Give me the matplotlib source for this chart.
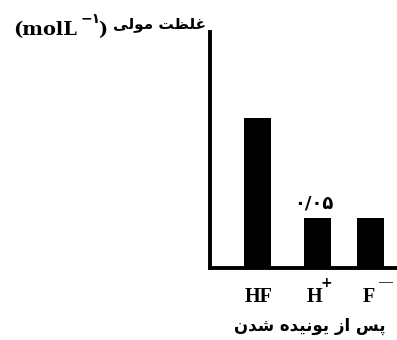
import matplotlib
matplotlib.use("Agg")
import matplotlib.pyplot as plt

# data
categories = ["HF", "H", "F"]
charges = ["", "+", "\u2014"]          # superscripts of H+ and F-
values = [0.15, 0.05, 0.05]
value_label = "\u06f0/\u06f0\u06f5"   # 0/05 in persian digits

# layout (x positions of the bars, not evenly spaced in the original)
xpos = [47.5, 107.5, 160.5]

# persian text written in presentation forms, visual order (no shaping in mpl)
ylabel_fa = "\ufef0\ufedf\ufeee\ufee3 \ufe96\ufec8\ufee0\ufecf"          # غلظت مولی
xlabel_fa = "\ufee5\ufeaa\ufeb7 \ufee9\ufeaa\ufef4\ufee7\ufeee\ufef3 \ufeaf\ufe8d \ufeb2\ufb58"  # پس از یونیده شدن

fig = plt.figure(figsize=(3.97, 3.40), dpi=100)
ax = fig.add_axes([210/397, 72/340, 187/397, 236/340])

ax.bar(xpos, values, width=27, color="black")
ax.set_xlim(0, 187)
ax.set_ylim(0, 0.236)

for s in ["top", "right"]:
    ax.spines[s].set_visible(False)
for s in ["left", "bottom"]:
    ax.spines[s].set_linewidth(2.8)
ax.set_yticks([])
ax.set_xticks([])

# category labels with big superscript charges
base_dx = [1.0, -2.5, -1.1]
sup_dx = [0, 6.5, 10.4]
sup_size = [0, 10, 10]
sup_font = ["", "DejaVu Sans", "Liberation Serif"]
for x, lab, ch, bdx, sdx, ss, sf in zip(xpos, categories, charges, base_dx,
                                        sup_dx, sup_size, sup_font):
    ax.annotate(lab, (x, 0), xycoords=("data", "axes fraction"),
                xytext=(bdx, -24.5), textcoords="offset points",
                ha="center", va="baseline", fontsize=14.5, fontweight="bold",
                family="Liberation Serif")
    if ch:
        ax.annotate(ch, (x, 0), xycoords=("data", "axes fraction"),
                    xytext=(sdx, -10.5), textcoords="offset points",
                    ha="center", va="center", fontsize=ss, fontweight="bold",
                    family=sf)

ax.text(xpos[1] - 4, values[1] + 0.006, value_label, ha="center", va="bottom",
        fontsize=13, fontweight="bold", family="DejaVu Sans")

# y axis title: unit + persian part, drawn as separate pieces like the original
fig.text(13/397, 1 - 35/340, "(molL", ha="left", va="baseline",
         fontsize=14, fontweight="bold", family="DejaVu Serif")
fig.text(81/397, 1 - 23/340, "\u2212\u06f1", ha="left", va="baseline",
         fontsize=10, fontweight="bold", family="DejaVu Sans")
fig.text(98/397, 1 - 35/340, ")", ha="left", va="baseline",
         fontsize=14, fontweight="bold", family="DejaVu Serif")
fig.text(206/397, 1 - 24/340, ylabel_fa, ha="right", va="center",
         fontsize=11, fontweight="bold", family="DejaVu Sans")

fig.text(310/397, 1 - 326/340, xlabel_fa, ha="center", va="center",
         fontsize=12, fontweight="bold", family="DejaVu Sans")

fig.savefig("out.png", dpi=100)
